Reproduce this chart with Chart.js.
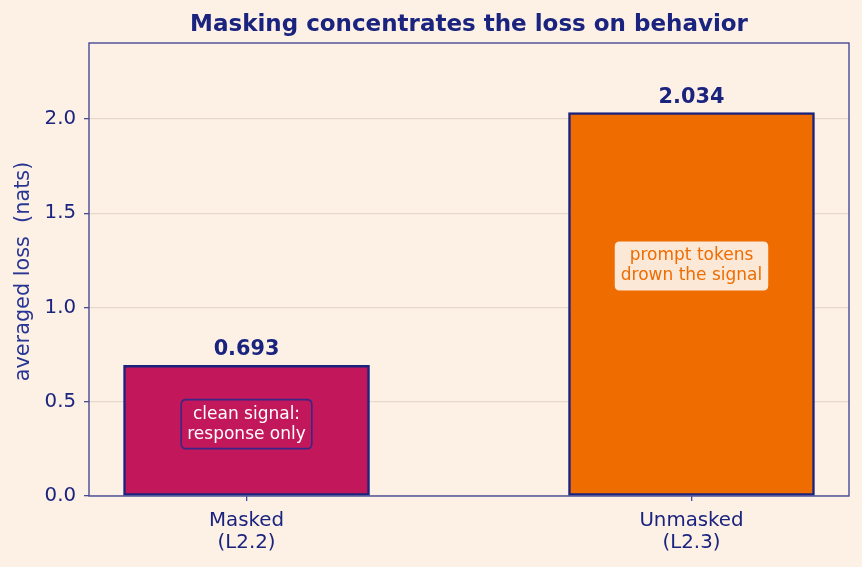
<!DOCTYPE html>
<html>
<head>
<meta charset="utf-8">
<script src="https://cdn.jsdelivr.net/npm/chart.js@4.4.1/dist/chart.umd.min.js"></script>
<style>
  html,body{margin:0;padding:0;background:#fdf1e6;}
  #wrap{width:862px;height:567px;position:relative;}
</style>
</head>
<body>
<div id="wrap"><canvas id="c" width="862" height="567"></canvas></div>
<script>
const categories = [["Masked","(L2.2)"],["Unmasked","(L2.3)"]];
const lossValues = [0.693, 2.034];
const valueLabels = ["0.693", "2.034"];
const notes = [["clean signal:","response only"],["prompt tokens","drown the signal"]];
const noteFrac = [0.55, 0.6];
const yTicks = [0, 0.5, 1.0, 1.5, 2.0];
const titleText = "Masking concentrates the loss on behavior";
const yTitle = "averaged loss  (nats)";

const NAVY = "#1a237e";
const BG = "#fdf1e6";
const FONT = "'DejaVu Sans', sans-serif";
const barColors = ["#c2185b", "#ef6c00"];

function rr(ctx, x, y, w, h, r){
  ctx.beginPath();
  ctx.moveTo(x+r,y);ctx.lineTo(x+w-r,y);ctx.quadraticCurveTo(x+w,y,x+w,y+r);
  ctx.lineTo(x+w,y+h-r);ctx.quadraticCurveTo(x+w,y+h,x+w-r,y+h);
  ctx.lineTo(x+r,y+h);ctx.quadraticCurveTo(x,y+h,x,y+h-r);
  ctx.lineTo(x,y+r);ctx.quadraticCurveTo(x,y,x+r,y);ctx.closePath();
}

const deco = {
  id:'deco',
  beforeDraw(chart){
    const ctx = chart.ctx;
    ctx.save();
    ctx.fillStyle = BG;
    ctx.fillRect(0,0,chart.width,chart.height);
    ctx.restore();
  },
  afterDraw(chart){
    const ctx = chart.ctx, a = chart.chartArea;
    const xs = chart.scales.x, ys = chart.scales.y;
    ctx.save();
    // frame
    ctx.strokeStyle = "#474a96";
    ctx.lineWidth = 1.4;
    ctx.strokeRect(a.left, a.top, a.right-a.left, a.bottom-a.top);
    // title
    ctx.fillStyle = NAVY;
    ctx.font = "bold 23px " + FONT;
    ctx.textAlign = "center";
    ctx.textBaseline = "alphabetic";
    ctx.fillText(titleText, (a.left+a.right)/2, 31);
    // y title
    ctx.save();
    ctx.translate(24, (a.top+a.bottom)/2 + 2);
    ctx.rotate(-Math.PI/2);
    ctx.font = "20.8px " + FONT;
    ctx.fillStyle = "#283593";
    ctx.textBaseline = "middle";
    ctx.fillText(yTitle, 0, 0);
    ctx.restore();
    // value labels and notes
    lossValues.forEach((v,i)=>{
      const cx = xs.getPixelForValue(i);
      const top = ys.getPixelForValue(v);
      ctx.font = "bold 20.8px " + FONT;
      ctx.fillStyle = NAVY;
      ctx.textBaseline = "alphabetic";
      ctx.fillText(valueLabels[i], cx, top - 10);
      const cy = ys.getPixelForValue(v*noteFrac[i]);
      ctx.font = "17px " + FONT;
      const w = Math.max(...notes[i].map(t=>ctx.measureText(t).width)) + 12;
      const h = 49;
      rr(ctx, cx - w/2, cy - h/2, w, h, 5);
      if(i===0){
        ctx.fillStyle = barColors[0];
        ctx.fill();
        ctx.strokeStyle = "#3b2585";
        ctx.lineWidth = 1.6;
        ctx.stroke();
        ctx.fillStyle = "#ffffff";
      } else {
        ctx.fillStyle = "rgba(253,241,230,0.93)";
        ctx.fill();
        ctx.fillStyle = barColors[1];
      }
      ctx.textBaseline = "middle";
      ctx.fillText(notes[i][0], cx, cy - 10);
      ctx.fillText(notes[i][1], cx, cy + 10);
    });
    ctx.restore();
  }
};

new Chart(document.getElementById('c'), {
  type:'bar',
  data:{
    datasets:[{
      data: lossValues.map((v,i)=>({x:i, y:v})),
      backgroundColor: barColors,
      borderColor: NAVY,
      borderWidth: 2.5,
      borderSkipped: false,
      barThickness: 246
    }]
  },
  options:{
    responsive:false,
    animation:false,
    devicePixelRatio:1,
    layout:{padding:{left:0, right:13, top:43, bottom:0}},
    plugins:{legend:{display:false}, tooltip:{enabled:false}, title:{display:false}},
    scales:{
      x:{
        type:'linear',
        offset:false,
        min:-0.354, max:1.354,
        afterBuildTicks(s){ s.ticks = categories.map((c,i)=>({value:i})); },
        afterFit(s){ s.height = 71; },
        ticks:{
          autoSkip:false,
          maxRotation:0,
          color:NAVY,
          font:{family:FONT, size:19.8, lineHeight:1.12},
          padding:9,
          callback:(v)=>categories[v]
        },
        grid:{offset:false, drawOnChartArea:false, drawTicks:true, tickLength:5, tickColor:"#474a96", lineWidth:1.3},
        border:{display:false}
      },
      y:{
        min:0, max:2.403,
        afterBuildTicks(s){ s.ticks = yTicks.map(v=>({value:v})); },
        afterFit(s){ s.width = 89; },
        ticks:{
          color:NAVY,
          font:{family:FONT, size:19.8},
          padding:8,
          callback:(v)=>v.toFixed(1)
        },
        grid:{color:"#e6d8cb", lineWidth:1.3, drawTicks:true, tickLength:5, tickColor:"#474a96"},
        border:{display:false}
      }
    }
  },
  plugins:[deco]
});
</script>
</body>
</html>
